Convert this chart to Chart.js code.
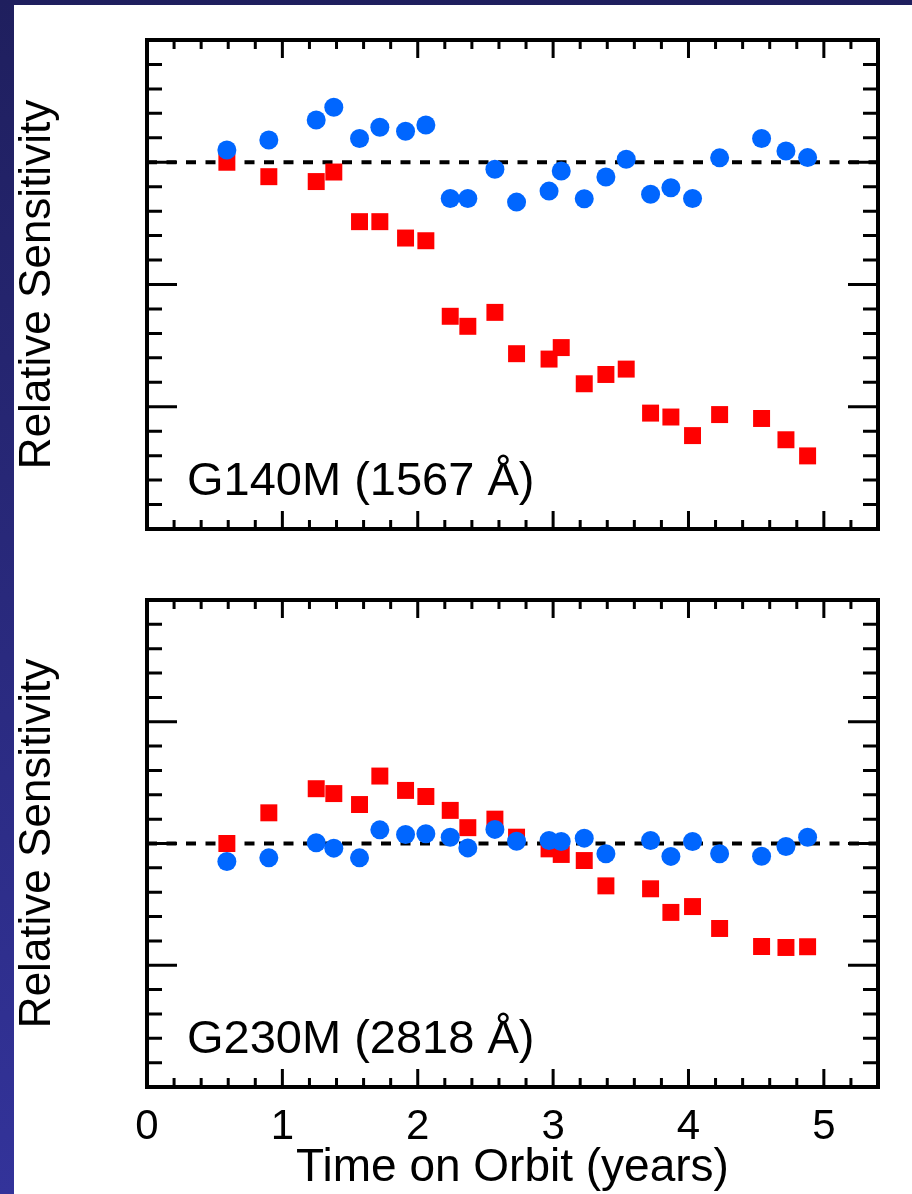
<!DOCTYPE html>
<html>
<head>
<meta charset="utf-8">
<title>Relative Sensitivity</title>
<script src="https://cdn.jsdelivr.net/npm/chart.js@4.4.0/dist/chart.umd.min.js"></script>
<style>
  html, body { margin: 0; padding: 0; }
  body {
    width: 912px; height: 1194px; overflow: hidden; position: relative;
    background: linear-gradient(to bottom, #1f1f5e, #33339a);
  }
  #paper { position: absolute; left: 14px; top: 5px; right: 0; bottom: 0; background: #fff; }
  canvas { position: absolute; left: 0; }
  #top { top: 0; }
  #bottom { top: 565px; }
</style>
</head>
<body>
<div id="paper"></div>
<canvas id="top" width="912" height="565"></canvas>
<canvas id="bottom" width="912" height="629"></canvas>
<script>
// valores
const tempoG140M = [0.59, 0.90, 1.25, 1.38, 1.57, 1.72, 1.91, 2.06, 2.24, 2.37, 2.57, 2.73,
                    2.97, 3.06, 3.23, 3.39, 3.54, 3.72, 3.87, 4.03, 4.23, 4.54, 4.72, 4.88];
const g140mAzul = [1.0050, 1.0091, 1.0173, 1.0225, 1.0097, 1.0143, 1.0127, 1.0152, 0.9852, 0.9852, 0.9971, 0.9837,
                   0.9882, 0.9964, 0.9851, 0.9940, 1.0012, 0.9869, 0.9896, 0.9852, 1.0018, 1.0097, 1.0046, 1.0019];
const g140mVermelho = [1.0000, 0.9941, 0.9921, 0.9960, 0.9757, 0.9757, 0.9690, 0.9679, 0.9370, 0.9329, 0.9386, 0.9217,
                       0.9195, 0.9242, 0.9094, 0.9132, 0.9154, 0.8974, 0.8958, 0.8882, 0.8968, 0.8952, 0.8865, 0.8799];

const tempoG230M = [0.59, 0.90, 1.25, 1.38, 1.57, 1.72, 1.91, 2.06, 2.24, 2.37, 2.57, 2.73,
                    2.97, 3.06, 3.23, 3.39, 3.72, 3.87, 4.03, 4.23, 4.54, 4.72, 4.88];
const g230mAzul = [0.9926, 0.9941, 1.0003, 0.9981, 0.9941, 1.0056, 1.0037, 1.0040, 1.0026, 0.9982, 1.0058, 1.0009,
                   1.0012, 1.0008, 1.0022, 0.9958, 1.0012, 0.9947, 1.0008, 0.9958, 0.9948, 0.9988, 1.0026];
const g230mVermelho = [1.0000, 1.0126, 1.0225, 1.0205, 1.0160, 1.0277, 1.0218, 1.0193, 1.0136, 1.0065, 1.0100, 1.0026,
                       0.9978, 0.9955, 0.9930, 0.9826, 0.9814, 0.9717, 0.9741, 0.9651, 0.9577, 0.9573, 0.9576];

const xTicks = [0, 1, 2, 3, 4, 5];
const xTickLabels = ['0', '1', '2', '3', '4', '5'];
const referencia = 1.0;
const xMin = 0, xMax = 5.4;

Chart.defaults.font.family = '"Liberation Sans", Arial, Helvetica, sans-serif';
Chart.defaults.color = '#000';

function pontos(xs, ys) {
    return xs.map(function (t, i) { return { x: t, y: ys[i] }; });
}

// moldura com marcas para dentro nos quatro lados
const moldura = {
    id: 'moldura',
    afterDraw(chart, args, opts) {
        const ctx = chart.ctx;
        const a = chart.chartArea;
        const x = chart.scales.x;
        const y = chart.scales.y;
        ctx.save();
        ctx.strokeStyle = '#000';
        ctx.lineCap = 'butt';
        ctx.lineWidth = 3;
        ctx.beginPath();
        const nx = Math.round((xMax - xMin) / 0.2);
        for (let i = 1; i < nx; i++) {
            const px = x.getPixelForValue(xMin + i * 0.2);
            const len = (i % 5 === 0) ? 18 : 9;
            ctx.moveTo(px, a.bottom); ctx.lineTo(px, a.bottom - len);
            ctx.moveTo(px, a.top); ctx.lineTo(px, a.top + len);
        }
        const ny = Math.round((y.max - y.min) / 0.01);
        for (let j = 1; j < ny; j++) {
            const py = y.getPixelForValue(y.min + j * 0.01);
            const len = (j % 5 === 0) ? 30 : 15;
            ctx.moveTo(a.left, py); ctx.lineTo(a.left + len, py);
            ctx.moveTo(a.right, py); ctx.lineTo(a.right - len, py);
        }
        ctx.stroke();
        ctx.lineWidth = 4;
        ctx.strokeRect(a.left, a.top, a.right - a.left, a.bottom - a.top);
        ctx.fillStyle = '#000';
        ctx.font = '47px "Liberation Sans", Arial, sans-serif';
        ctx.textBaseline = 'alphabetic';
        ctx.fillText(opts.texto, a.left + 40, a.bottom - 34);
        ctx.restore();
    }
};

function criarGrafico(id, tempo, azul, vermelho, yMin, yMax, texto, mostrarX, padding) {
    const ctx = document.getElementById(id).getContext('2d');
    return new Chart(ctx, {
        type: 'scatter',
        data: {
            datasets: [
                {
                    data: pontos(tempo, azul),
                    pointStyle: 'circle',
                    pointRadius: 9.5,
                    pointBorderWidth: 0,
                    backgroundColor: '#0066ff',
                    borderColor: '#0066ff'
                },
                {
                    data: pontos(tempo, vermelho),
                    pointStyle: 'rect',
                    pointRadius: 12,
                    pointBorderWidth: 0,
                    backgroundColor: '#ff0000',
                    borderColor: '#ff0000'
                },
                {
                    data: [{ x: xMin, y: referencia }, { x: xMax, y: referencia }],
                    showLine: true,
                    borderColor: '#000',
                    borderWidth: 4,
                    borderDash: [10, 9.5],
                    pointRadius: 0
                }
            ]
        },
        options: {
            responsive: false,
            animation: false,
            events: [],
            layout: { padding: padding },
            plugins: {
                legend: { display: false },
                tooltip: { enabled: false },
                moldura: { texto: texto }
            },
            scales: {
                x: {
                    type: 'linear',
                    position: 'bottom',
                    min: xMin,
                    max: xMax,
                    display: mostrarX,
                    grid: { display: false, drawTicks: false },
                    border: { display: false },
                    afterBuildTicks: function (scale) {
                        scale.ticks = xTicks.map(function (v) { return { value: v }; });
                    },
                    ticks: {
                        autoSkip: false,
                        maxRotation: 0,
                        padding: 19,
                        font: { size: 42, lineHeight: 1 },
                        callback: function (value) {
                            return xTickLabels[xTicks.indexOf(value)];
                        }
                    },
                    title: {
                        display: true,
                        text: 'Time on Orbit (years)',
                        font: { size: 46, lineHeight: 1 },
                        padding: { top: -22, bottom: 3 }
                    }
                },
                y: {
                    type: 'linear',
                    position: 'left',
                    min: yMin,
                    max: yMax,
                    grid: { display: false, drawTicks: false },
                    border: { display: false },
                    ticks: { display: false },
                    title: {
                        display: true,
                        text: 'Relative Sensitivity',
                        font: { size: 44, lineHeight: 1.2 },
                        padding: { top: 11.6, bottom: 82.6 }
                    }
                }
            }
        },
        plugins: [moldura]
    });
}

criarGrafico('top', tempoG140M, g140mAzul, g140mVermelho, 0.85, 1.05, 'G140M (1567 Å)', false,
    { top: 40, bottom: 36, left: 0, right: 34 });
criarGrafico('bottom', tempoG230M, g230mAzul, g230mVermelho, 0.90, 1.10, 'G230M (2818 Å)', true,
    { top: 35, bottom: 0, left: 0, right: 34 });
</script>
</body>
</html>
